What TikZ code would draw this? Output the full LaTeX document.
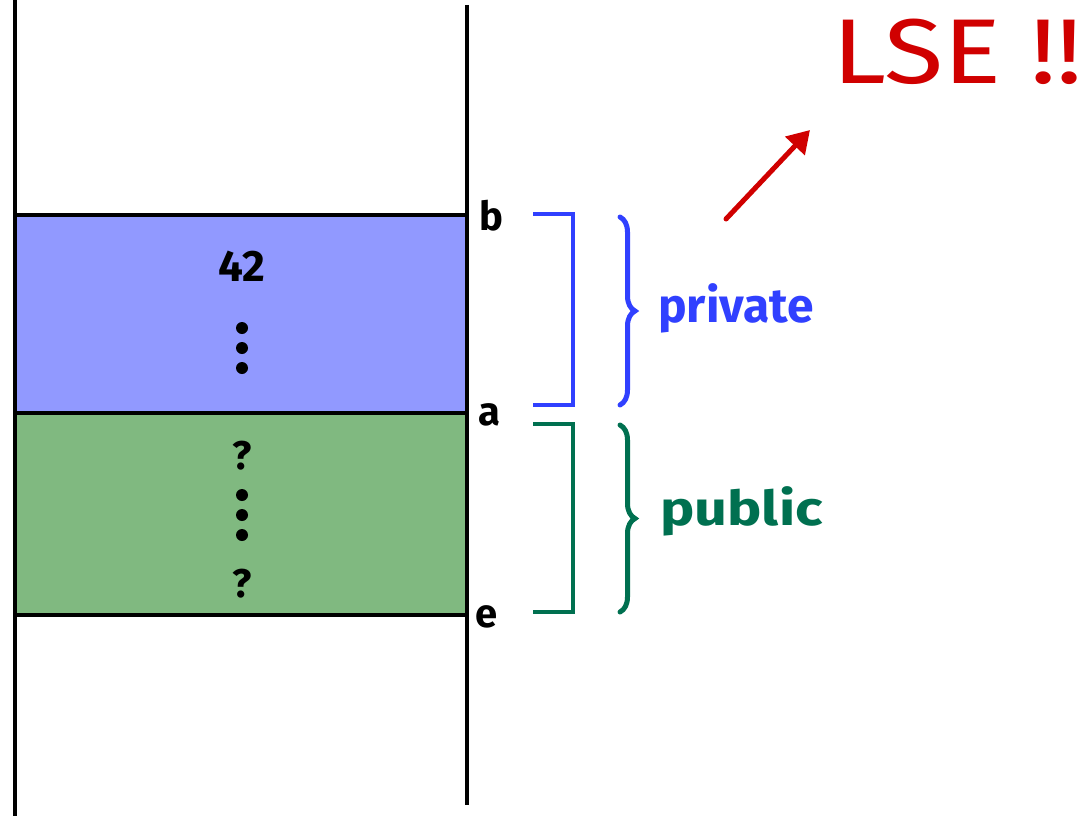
\documentclass[tikz,border=0pt]{standalone}
\usepackage{fontspec}
\setmainfont{Fira Sans}
\usetikzlibrary{arrows.meta,decorations.pathreplacing}
\definecolor{privblue}{RGB}{48,64,255}
\definecolor{privfill}{RGB}{145,153,255}
\definecolor{pubgreen}{RGB}{0,112,80}
\definecolor{pubfill}{RGB}{128,185,128}
\definecolor{lsered}{RGB}{208,0,0}
\tikzset{
  wall/.style={line width=4.8pt, black},
  bracketline/.style={line width=4.5pt, line join=miter},
  bracebig/.style={line width=5pt, line cap=round, decorate, decoration={brace, amplitude=15pt, aspect=0.5}},
  lbl/.style={font=\bfseries\fontsize{40}{40}\selectfont, inner sep=0pt},
  word/.style={font=\bfseries\fontsize{48}{48}\selectfont, inner sep=0pt},
  bigdot/.style={circle, fill=black, inner sep=0pt, minimum size=12pt},
}
\begin{document}
\begin{tikzpicture}[x=1pt,y=-1pt]
\useasboundingbox (0,0) rectangle (1087,816);
% cells
\fill[privfill] (15,215) rectangle (466,413);
\fill[pubfill] (15,413) rectangle (466,615);
\draw[wall] (15,215) -- (468,215);
\draw[wall] (15,413) -- (468,413);
\draw[wall] (15,615) -- (468,615);
\draw[wall] (15,0) -- (15,816);
\draw[wall] (467,5) -- (467,805);
% labels
\node[lbl, anchor=base] (lb) at (491,230) {b};
\node[lbl, anchor=base] (la) at (489,425) {a};
\node[lbl, anchor=base] (le) at (487,627) {e};
% content of cells
\node[font=\bfseries\fontsize{44}{44}\selectfont, inner sep=0pt, anchor=base] (n42) at (242,281) {42};
\node[bigdot] (d1) at (242,328) {};
\node[bigdot] (d2) at (242,348) {};
\node[bigdot] (d3) at (242,368) {};
\node[font=\bfseries\fontsize{40}{40}\selectfont, inner sep=0pt, anchor=base] (q1) at (242,469) {?};
\node[bigdot] (d4) at (242,495) {};
\node[bigdot] (d5) at (242,515) {};
\node[bigdot] (d6) at (242,535) {};
\node[font=\bfseries\fontsize{40}{40}\selectfont, inner sep=0pt, anchor=base] (q2) at (242,597) {?};
% private bracket and brace
\coordinate (pb1) at (533,214);
\coordinate (pb2) at (573,214);
\coordinate (pb3) at (573,405);
\coordinate (pb4) at (533,405);
\draw[bracketline, privblue] (pb1) -- (pb2) -- (pb3) -- (pb4);
\coordinate (pbt) at (620,217);
\coordinate (pbb) at (620,405);
\draw[bracebig, privblue] (pbt) -- (pbb);
\node[word, privblue, anchor=base west] (priv) at (658,322) {private};
% public bracket and brace
\coordinate (gb1) at (533,424);
\coordinate (gb2) at (573,424);
\coordinate (gb3) at (573,612);
\coordinate (gb4) at (533,612);
\draw[bracketline, pubgreen] (gb1) -- (gb2) -- (gb3) -- (gb4);
\coordinate (gbt) at (620,425);
\coordinate (gbb) at (620,612);
\draw[bracebig, pubgreen] (gbt) -- (gbb);
\node[word, pubgreen, anchor=base west, xscale=1.2] (pub) at (660,525) {public};
% LSE
\node[font=\fontsize{92}{92}\selectfont, lsered, inner sep=0pt, anchor=base west, xscale=1.18] (lse) at (832,84) {LSE !!};
\coordinate (as) at (726,219);
\coordinate (ae) at (810,130);
\draw[lsered, line width=5pt, line cap=round, -{Triangle[length=22pt,width=26pt]}] (as) -- (ae);
\end{tikzpicture}
\end{document}
